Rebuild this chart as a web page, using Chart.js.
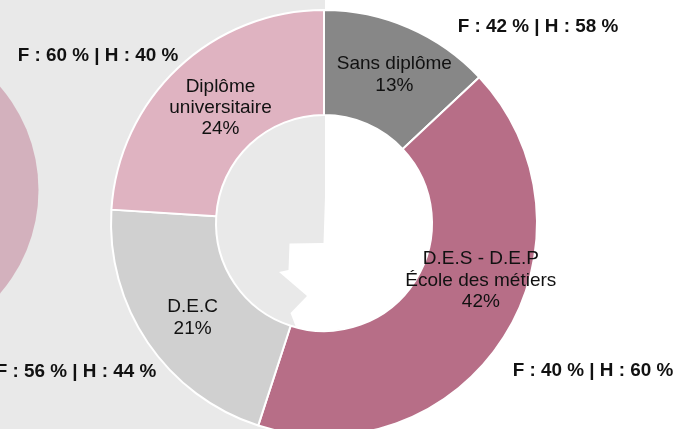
<!DOCTYPE html>
<html>
<head>
<meta charset="utf-8">
<script src="https://cdn.jsdelivr.net/npm/chart.js@4/dist/chart.umd.min.js"></script>
<style>
  html, body { margin: 0; padding: 0; background: #ffffff; overflow: hidden; }
  #wrap { position: absolute; left: 0; top: 0; width: 677px; height: 440px; }
</style>
</head>
<body>
<div id="wrap"><canvas id="c" width="677" height="440"></canvas></div>
<script>
// ---- data ----
const categories = ["Sans diplôme", "D.E.S - D.E.P", "D.E.C", "Diplôme universitaire"];
const labelLines = [["Sans diplôme"], ["D.E.S - D.E.P", "École des métiers"], ["D.E.C"], ["Diplôme", "universitaire"]];
const shares = [13, 42, 21, 24];
const genderNotes = ["F : 42 % | H : 58 %", "F : 40 % | H : 60 %", "F : 56 % | H : 44 %", "F : 60 % | H : 40 %"];

// ---- styling ----
const sliceColors = ["#878787", "#b76e87", "#d0d0d0", "#dfb3c1"];
// label offsets relative to slice mid-angle (degrees) and radius (px)
const labelPlace = [{da: 2.0, r: 164}, {da: -12.3, r: 167}, {da: -1.6, r: 162}, {da: 1.3, r: 155}];
// gender note anchor positions (canvas px)
const notePos = [[538, 27], [593, 371], [76, 372], [98, 56]];

const bgPlugin = {
  id: 'bg',
  beforeDraw(chart) {
    const ctx = chart.ctx;
    ctx.save();
    ctx.fillStyle = '#ffffff';
    ctx.fillRect(0, 0, chart.width, chart.height);
    ctx.fillStyle = '#e9e9e9';
    ctx.fillRect(0, 0, 325, chart.height);
    // notch of white in the hole
    ctx.fillStyle = '#ffffff';
    ctx.beginPath();
    ctx.moveTo(327, 90);
    ctx.lineTo(326.5, 150);
    ctx.lineTo(323.5, 243);
    ctx.lineTo(289.5, 243.5);
    ctx.lineTo(288.5, 270);
    ctx.lineTo(279, 272);
    ctx.lineTo(307, 296);
    ctx.lineTo(290.5, 313);
    ctx.lineTo(297, 330);
    ctx.lineTo(340, 340);
    ctx.lineTo(340, 90);
    ctx.closePath();
    ctx.fill();
    // pink circle at left
    ctx.fillStyle = '#d3b1bd';
    ctx.beginPath();
    ctx.arc(-120, 190, 158.5, 0, Math.PI * 2);
    ctx.fill();
    ctx.restore();
  }
};

const labelPlugin = {
  id: 'labels',
  afterDatasetsDraw(chart) {
    const ctx = chart.ctx;
    const meta = chart.getDatasetMeta(0);
    ctx.save();
    ctx.fillStyle = '#111111';
    ctx.textAlign = 'center';
    ctx.textBaseline = 'middle';
    ctx.font = '19px "Liberation Sans", Arial, sans-serif';
    meta.data.forEach((arc, i) => {
      const p = arc.getProps(['x', 'y', 'startAngle', 'endAngle'], true);
      const mid = (p.startAngle + p.endAngle) / 2 + labelPlace[i].da * Math.PI / 180;
      const cx = p.x + labelPlace[i].r * Math.cos(mid);
      const cy = p.y + labelPlace[i].r * Math.sin(mid);
      const lines = labelLines[i].concat([shares[i] + '%']);
      const lh = 21.3;
      const y0 = cy - (lines.length - 1) * lh / 2;
      lines.forEach((t, k) => ctx.fillText(t, cx, y0 + k * lh));
    });
    ctx.font = 'bold 18.9px "Liberation Sans", Arial, sans-serif';
    genderNotes.forEach((t, i) => ctx.fillText(t, notePos[i][0], notePos[i][1]));
    ctx.restore();
  }
};

new Chart(document.getElementById('c'), {
  type: 'doughnut',
  data: {
    labels: categories,
    datasets: [{
      data: shares,
      backgroundColor: sliceColors,
      borderColor: '#ffffff',
      borderWidth: 2,
      hoverOffset: 0
    }]
  },
  options: {
    responsive: false,
    animation: false,
    devicePixelRatio: 1,
    cutout: '50.7%',
    layout: { padding: { top: 9, bottom: 3, left: 0, right: 29 } },
    plugins: { legend: { display: false }, tooltip: { enabled: false } }
  },
  plugins: [bgPlugin, labelPlugin]
});
</script>
</body>
</html>
